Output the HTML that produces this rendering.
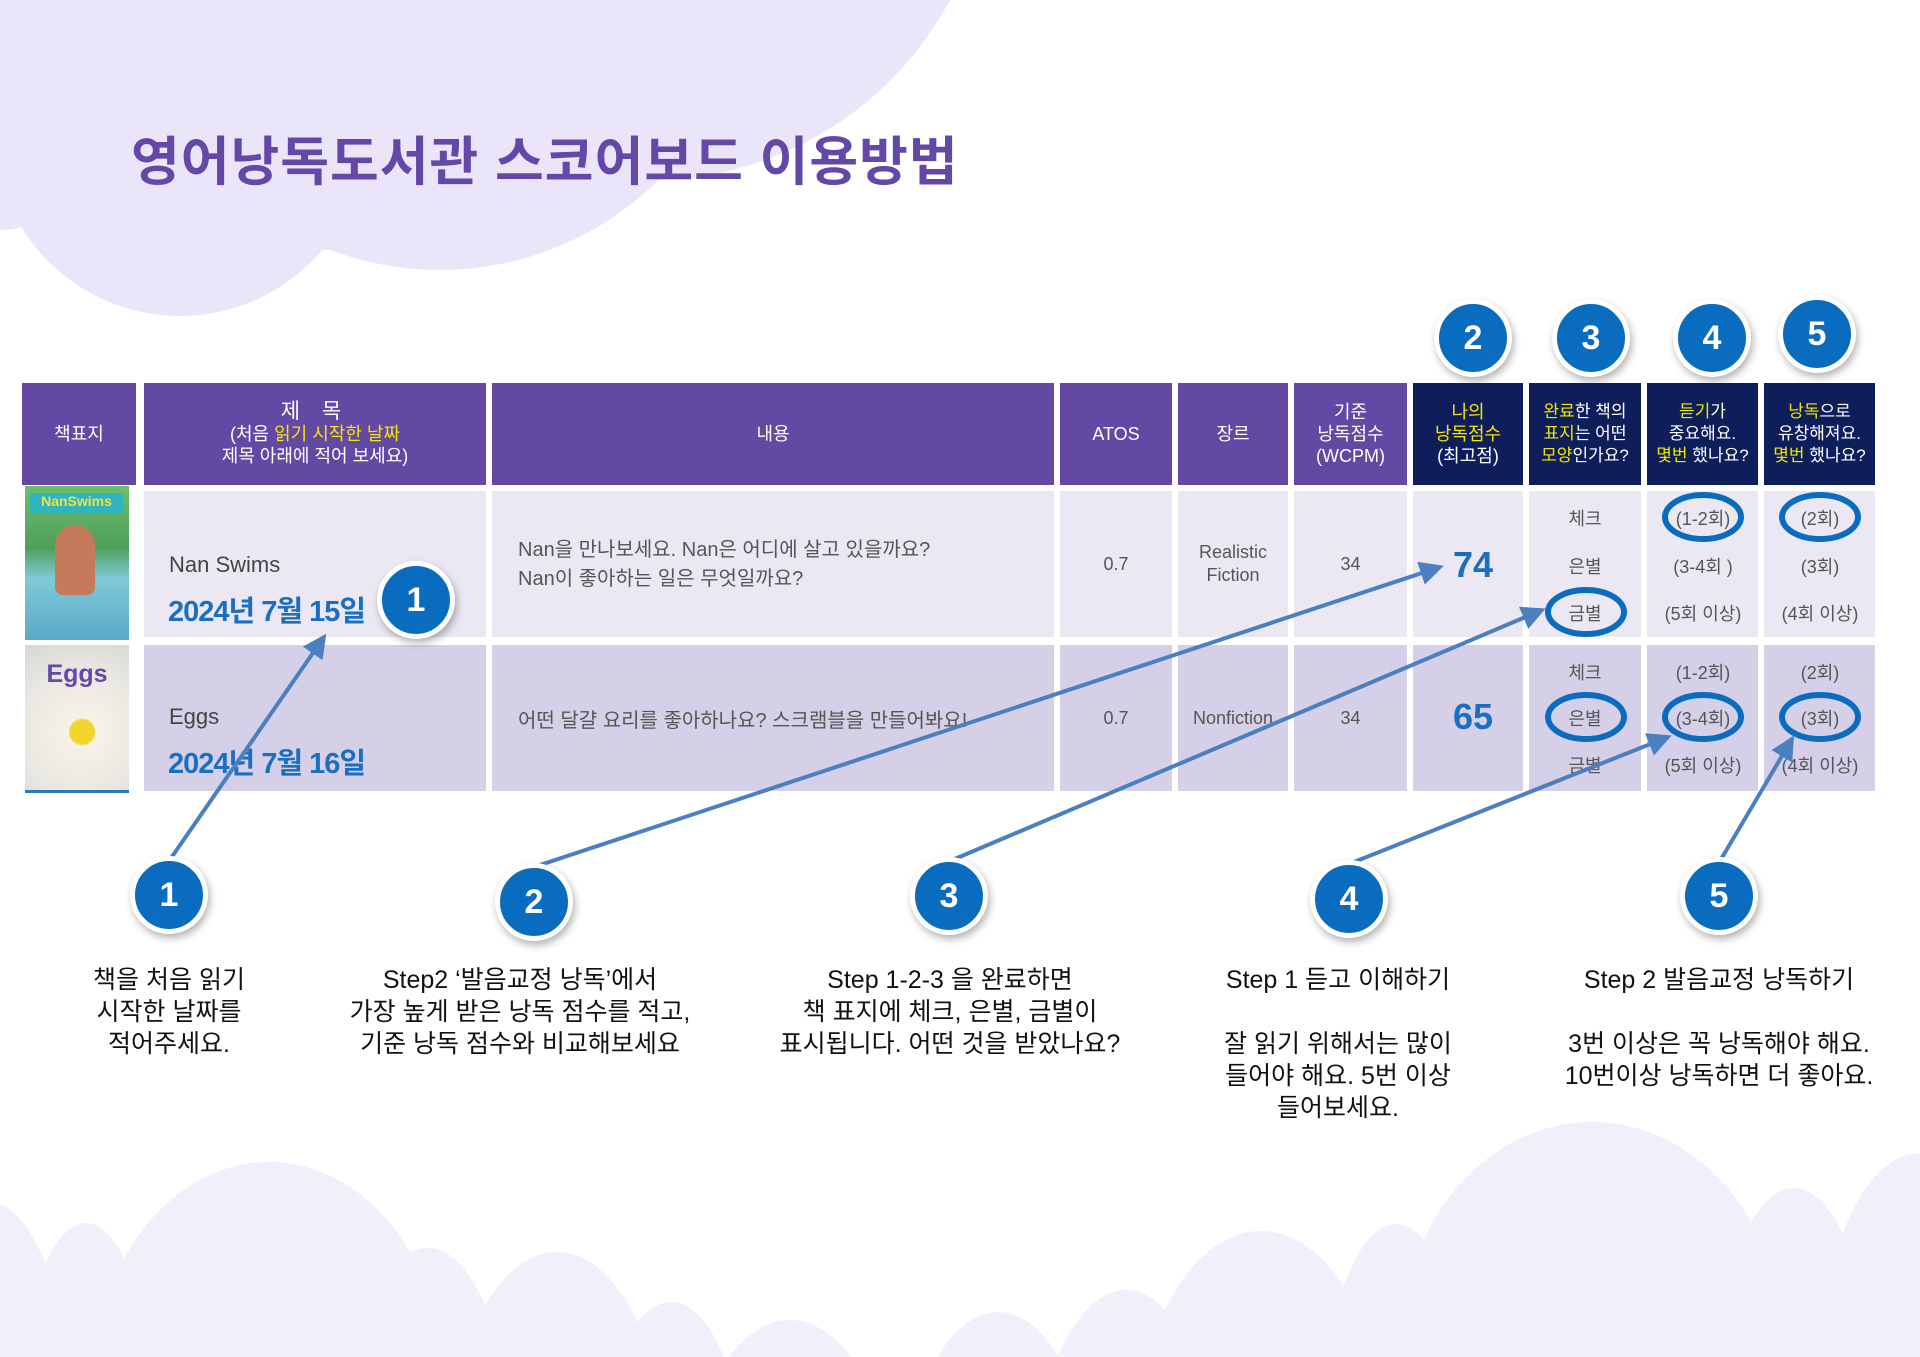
<!DOCTYPE html>
<html><head><meta charset="utf-8"><style>
*{margin:0;padding:0;box-sizing:border-box}
html,body{width:1920px;height:1357px;overflow:hidden}
body{position:relative;background:#fff;font-family:"Liberation Sans","Noto Sans CJK KR",sans-serif}
.a{position:absolute}
.h{position:absolute;top:383px;height:102px;color:#fff;display:flex;align-items:center;justify-content:center;text-align:center;font-size:18px;line-height:22px;white-space:nowrap}
.p{background:#6349a3}.n{background:#0e1e5b}
.y{color:#f3e600}
.c{position:absolute;display:flex;align-items:center;justify-content:center;text-align:center;color:#555;font-size:18px}
.r1{top:491px;height:146px;background:#ebe8f3}
.r2{top:645px;height:146px;background:#d5cfe7}
.t{position:absolute;color:#555;font-size:18px;text-align:center;width:110px}
.b{position:absolute;width:78px;height:78px;border-radius:50%;background:#0a6cbf;border:5px solid #fff;box-shadow:2px 4px 8px rgba(0,0,0,.3);color:#fff;font-weight:bold;font-size:34px;display:flex;align-items:center;justify-content:center}
.d{position:absolute;color:#111;font-size:25px;line-height:32px;text-align:center;white-space:nowrap}
.dt{position:absolute;font-size:29px;font-weight:bold;color:#1a6fc0;white-space:nowrap;letter-spacing:-1px}
</style></head><body>
<svg class="a" style="left:0;top:0" width="1920" height="1357">
<g fill="#ebe5f9">
<circle cx="180" cy="130" r="186"/><circle cx="440" cy="-40" r="310"/><circle cx="650" cy="-160" r="340"/><circle cx="330" cy="140" r="110"/><ellipse cx="0" cy="60" rx="120" ry="170"/>
</g>
<g fill="#f3eefb">
<ellipse cx="-10" cy="1423" rx="80" ry="220"/><ellipse cx="86" cy="1443" rx="70" ry="220"/><ellipse cx="269" cy="1382" rx="175" ry="220"/><ellipse cx="428" cy="1468" rx="85" ry="220"/><ellipse cx="557" cy="1472" rx="110" ry="220"/><ellipse cx="671" cy="1522" rx="80" ry="220"/><ellipse cx="790" cy="1540" rx="110" ry="220"/><ellipse cx="998" cy="1532" rx="100" ry="220"/><ellipse cx="1126" cy="1510" rx="95" ry="220"/><ellipse cx="1261" cy="1451" rx="125" ry="220"/><ellipse cx="1396" cy="1444" rx="75" ry="220"/><ellipse cx="1592" cy="1342" rx="190" ry="220"/><ellipse cx="1794" cy="1408" rx="80" ry="220"/><ellipse cx="1920" cy="1373" rx="100" ry="220"/>
</g>
</svg>
<div class="a" style="left:131px;top:120px;font-size:53px;font-weight:bold;color:#6448a8;white-space:nowrap;letter-spacing:1px">영어낭독도서관 스코어보드 이용방법</div>

<div class="h p" style="left:22px;width:114px">책표지</div>
<div class="h p" style="left:144px;width:342px"><div><span style="font-size:21px;letter-spacing:8px">제 목</span><br>(처음 <span class="y">읽기 시작한 날짜</span><br>제목 아래에 적어 보세요)</div></div>
<div class="h p" style="left:492px;width:562px">내용</div>
<div class="h p" style="left:1060px;width:112px">ATOS</div>
<div class="h p" style="left:1178px;width:110px">장르</div>
<div class="h p" style="left:1294px;width:113px"><div>기준<br>낭독점수<br>(WCPM)</div></div>
<div class="h n" style="left:1413px;width:110px"><div><span class="y">나의<br>낭독점수</span><br>(최고점)</div></div>
<div class="h n" style="left:1529px;width:112px;font-size:17px"><div><span class="y">완료</span>한 책의<br><span class="y">표지</span>는 어떤<br><span class="y">모양</span>인가요?</div></div>
<div class="h n" style="left:1647px;width:111px;font-size:17px"><div><span class="y">듣기</span>가<br>중요해요.<br><span class="y">몇번</span> 했나요?</div></div>
<div class="h n" style="left:1764px;width:111px;font-size:17px"><div><span class="y">낭독</span>으로<br>유창해져요.<br><span class="y">몇번</span> 했나요?</div></div>

<div class="a" style="left:25px;top:486px;width:104px;height:154px;background:linear-gradient(#6fbf6a,#4f9e5a 40%,#7fc9d8 60%,#5aa9c8)"></div>
<div class="a" style="left:30px;top:493px;width:93px;height:20px;background:#2fb5c0;color:#f3e23a;font-size:14px;font-weight:bold;text-align:center">NanSwims</div>
<div class="a" style="left:55px;top:525px;width:40px;height:70px;background:#c47a5b;border-radius:20px 20px 8px 8px"></div>
<div class="a" style="left:25px;top:645px;width:104px;height:148px;background:radial-gradient(circle at 55% 60%,#f2d52a 12px,#f7f2e6 14px,#e9e7e2 60%,#d8d6d0);border-bottom:3px solid #2a7ab8"></div>
<div class="a" style="left:25px;top:660px;width:104px;text-align:center;color:#6548a8;font-weight:bold;font-size:25px">Eggs</div>

<div class="c r1" style="left:144px;width:342px"></div><div class="c r1" style="left:492px;width:562px"></div>
<div class="c r1" style="left:1060px;width:112px">0.7</div><div class="c r1" style="left:1178px;width:110px;line-height:23px">Realistic<br>Fiction</div>
<div class="c r1" style="left:1294px;width:113px">34</div><div class="c r1" style="left:1413px;width:110px"></div>
<div class="c r1" style="left:1529px;width:112px"></div><div class="c r1" style="left:1647px;width:111px"></div><div class="c r1" style="left:1764px;width:111px"></div>
<div class="c r2" style="left:144px;width:342px"></div><div class="c r2" style="left:492px;width:562px"></div>
<div class="c r2" style="left:1060px;width:112px">0.7</div><div class="c r2" style="left:1178px;width:110px">Nonfiction</div>
<div class="c r2" style="left:1294px;width:113px">34</div><div class="c r2" style="left:1413px;width:110px"></div>
<div class="c r2" style="left:1529px;width:112px"></div><div class="c r2" style="left:1647px;width:111px"></div><div class="c r2" style="left:1764px;width:111px"></div>

<div class="a" style="left:169px;top:552px;font-size:22px;color:#444">Nan Swims</div>
<div class="dt" style="left:168px;top:588px">2024년 7월 15일</div>
<div class="a" style="left:169px;top:704px;font-size:22px;color:#444">Eggs</div>
<div class="dt" style="left:168px;top:740px">2024년 7월 16일</div>
<div class="a" style="left:518px;top:536px;font-size:20px;color:#555;line-height:29px">Nan을 만나보세요. Nan은 어디에 살고 있을까요?<br>Nan이 좋아하는 일은 무엇일까요?</div>
<div class="a" style="left:518px;top:704px;font-size:20px;color:#555">어떤 달걀 요리를 좋아하나요? 스크램블을 만들어봐요!</div>
<div class="a" style="left:1413px;top:544px;width:120px;text-align:center;font-size:36px;font-weight:bold;color:#1a6fc0">74</div>
<div class="a" style="left:1413px;top:696px;width:120px;text-align:center;font-size:36px;font-weight:bold;color:#1a6fc0">65</div>

<div class="t" style="left:1530px;top:505px">체크</div><div class="t" style="left:1530px;top:553px">은별</div><div class="t" style="left:1530px;top:600px">금별</div>
<div class="t" style="left:1530px;top:659px">체크</div><div class="t" style="left:1530px;top:705px">은별</div><div class="t" style="left:1530px;top:752px">금별</div>
<div class="t" style="left:1648px;top:505px">(1-2회)</div><div class="t" style="left:1648px;top:553px">(3-4회 )</div><div class="t" style="left:1648px;top:600px">(5회 이상)</div>
<div class="t" style="left:1648px;top:659px">(1-2회)</div><div class="t" style="left:1648px;top:705px">(3-4회)</div><div class="t" style="left:1648px;top:752px">(5회 이상)</div>
<div class="t" style="left:1765px;top:505px">(2회)</div><div class="t" style="left:1765px;top:553px">(3회)</div><div class="t" style="left:1765px;top:600px">(4회 이상)</div>
<div class="t" style="left:1765px;top:659px">(2회)</div><div class="t" style="left:1765px;top:705px">(3회)</div><div class="t" style="left:1765px;top:752px">(4회 이상)</div>

<svg class="a" style="left:0;top:0" width="1920" height="1357">
<defs><marker id="m" markerWidth="6" markerHeight="6" refX="5" refY="3" orient="auto" markerUnits="strokeWidth"><path d="M0,0L6,3L0,6z" fill="#4a7fc0"/></marker></defs>
<g fill="none" stroke="#0a6cbf" stroke-width="6">
<ellipse cx="1586" cy="612" rx="38" ry="22"/><ellipse cx="1586" cy="717" rx="38" ry="22"/>
<ellipse cx="1703" cy="517" rx="38" ry="22"/><ellipse cx="1820" cy="517" rx="38" ry="22"/>
<ellipse cx="1703" cy="717" rx="38" ry="22"/><ellipse cx="1820" cy="717" rx="38" ry="22"/>
</g>
<g stroke="#4a7fc0" stroke-width="4" marker-end="url(#m)">
<line x1="169" y1="861" x2="324" y2="637"/>
<line x1="534" y1="867" x2="1440" y2="567"/>
<line x1="950" y1="861" x2="1542" y2="610"/>
<line x1="1349" y1="864" x2="1668" y2="737"/>
<line x1="1720" y1="861" x2="1792" y2="739"/>
</g>
</svg>

<div class="b" style="left:377px;top:561px">1</div>
<div class="b" style="left:1434px;top:299px">2</div>
<div class="b" style="left:1552px;top:299px">3</div>
<div class="b" style="left:1673px;top:299px">4</div>
<div class="b" style="left:1778px;top:295px">5</div>
<div class="b" style="left:130px;top:856px">1</div>
<div class="b" style="left:495px;top:863px">2</div>
<div class="b" style="left:910px;top:857px">3</div>
<div class="b" style="left:1310px;top:860px">4</div>
<div class="b" style="left:1680px;top:857px">5</div>

<div class="d" style="left:19px;width:300px;top:964px">책을 처음 읽기<br>시작한 날짜를<br>적어주세요.</div>
<div class="d" style="left:320px;width:400px;top:964px">Step2 ‘발음교정 낭독’에서<br>가장 높게 받은 낭독 점수를 적고,<br>기준 낭독 점수와 비교해보세요</div>
<div class="d" style="left:750px;width:400px;top:964px">Step 1-2-3 을 완료하면<br>책 표지에 체크, 은별, 금별이<br>표시됩니다. 어떤 것을 받았나요?</div>
<div class="d" style="left:1138px;width:400px;top:964px">Step 1 듣고 이해하기<br><br>잘 읽기 위해서는 많이<br>들어야 해요. 5번 이상<br>들어보세요.</div>
<div class="d" style="left:1519px;width:400px;top:964px">Step 2 발음교정 낭독하기<br><br>3번 이상은 꼭 낭독해야 해요.<br>10번이상 낭독하면 더 좋아요.</div>
</body></html>
